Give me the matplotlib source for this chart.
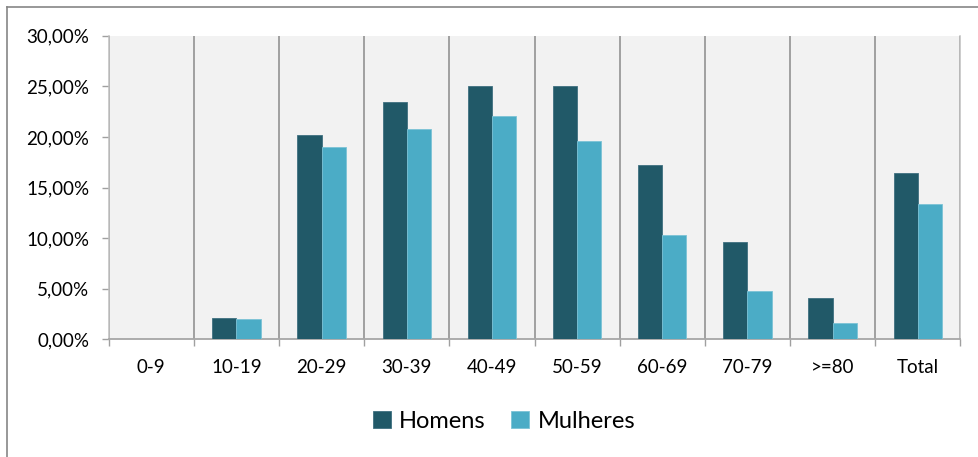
import matplotlib
matplotlib.use("Agg")
import matplotlib.pyplot as plt
import numpy as np
from matplotlib.lines import Line2D
from matplotlib.ticker import FuncFormatter, FixedLocator

plt.rcParams['font.family'] = ['Lato', 'DejaVu Sans']

categories = ["0-9", "10-19", "20-29", "30-39", "40-49", "50-59", "60-69", "70-79", ">=80", "Total"]
homens = [0.0, 2.08, 20.19, 23.42, 25.03, 25.0, 17.19, 9.58, 4.08, 16.4]
mulheres = [0.0, 1.98, 18.97, 20.78, 22.04, 19.6, 10.3, 4.77, 1.61, 13.4]
series_names = ["Homens", "Mulheres"]
colors = ["#215968", "#4bacc6"]

W, H = 979, 457
fig = plt.figure(figsize=(W / 100, H / 100), dpi=100)
fig.patch.set_facecolor("white")

left, right = 108.7 / W, 960.3 / W
top, bottom = 1 - 35.7 / H, 1 - 339.3 / H
ax = fig.add_axes([left, bottom, right - left, top - bottom])
ax.set_facecolor("#f2f2f2")

x = np.arange(len(categories))
bw = 0.283
ax.bar(x - bw / 2, homens, bw, color=colors[0], label=series_names[0],
       edgecolor="#3f7080", linewidth=0.6, zorder=3)
ax.bar(x + bw / 2, mulheres, bw, color=colors[1], label=series_names[1],
       edgecolor="#7cc3d6", linewidth=0.6, zorder=3)

ax.set_xlim(-0.5, len(categories) - 0.5)
ax.set_ylim(0, 30)
ax.set_yticks(np.arange(0, 31, 5))
ax.yaxis.set_major_formatter(FuncFormatter(lambda v, p: f"{v:.2f}".replace(".", ",") + "%"))

ax.set_xticks(x)
ax.set_xticklabels(categories)
ax.xaxis.set_minor_locator(FixedLocator(np.arange(0.5, len(categories), 1.0).tolist() + [-0.5]))
ax.tick_params(axis="x", which="major", length=0, pad=14.5, labelsize=13.5, colors="black")
ax.tick_params(axis="x", which="minor", length=5, width=1, color="#a0a0a0", direction="out")
ax.tick_params(axis="y", which="major", length=5, width=1, color="#a0a0a0", direction="out",
               pad=9, labelsize=13.5, labelcolor="black")
ax.grid(axis="x", which="minor", color="#8a8a8a", linewidth=1.1, zorder=1)
ax.set_axisbelow(True)

ax.spines["top"].set_visible(False)
ax.spines["right"].set_color("#bfbfbf")
ax.spines["right"].set_linewidth(1.1)
ax.spines["left"].set_color("#bfbfbf")
ax.spines["left"].set_linewidth(1.1)
ax.spines["bottom"].set_color("#a6a6a6")
ax.spines["bottom"].set_linewidth(1.3)

leg = fig.legend(loc="center", bbox_to_anchor=(504 / W, 1 - 421 / H), ncol=2, frameon=False,
                 fontsize=17, handlelength=0.75, handleheight=0.75, handletextpad=0.35,
                 columnspacing=1.1, borderaxespad=0)

# outer chart border (partially visible)
bx, by = 7.3 / W, 1 - 7.3 / H
fig.add_artist(Line2D([bx, bx], [0, by], transform=fig.transFigure, color="#868686", linewidth=1.2))
fig.add_artist(Line2D([bx, 1], [by, by], transform=fig.transFigure, color="#868686", linewidth=1.2))

fig.savefig("out.png", dpi=100, facecolor="white")
